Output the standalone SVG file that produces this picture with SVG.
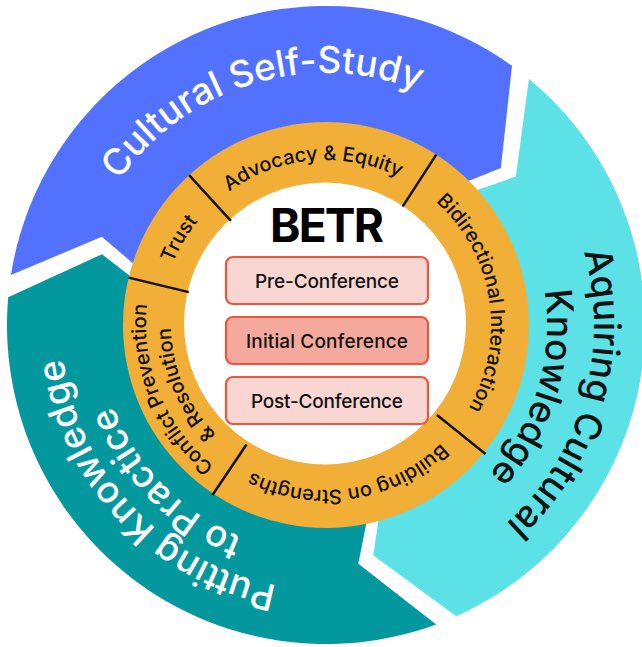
<svg xmlns="http://www.w3.org/2000/svg" xmlns:xlink="http://www.w3.org/1999/xlink" width="642" height="647" viewBox="0 0 642 647">
<style>
.lbl{font-family:Inter,"Liberation Sans",sans-serif;}
.ring{font-size:20px;font-weight:500;fill:#111;}
.outer{font-size:37px;font-weight:500;}
.box{font-size:19px;font-weight:500;fill:#111;}
.div{stroke:#111;stroke-width:2.5;}
.bx{stroke:#E8583F;stroke-width:2.2;}
</style>
<defs>
<path id="r165" d="M326,490 A165,165 0 0 1 326,160 A165,165 0 0 1 326,490"/>
<path id="r180" d="M326,505 A180,180 0 0 1 326,145 A180,180 0 0 1 326,505"/>
<path id="r155" d="M326,480 A155,155 0 0 1 326,170 A155,155 0 0 1 326,480"/>
<path id="r252" d="M326,577 A252,252 0 0 1 326,73 A252,252 0 0 1 326,577"/>
<path id="r268" d="M326,593 A268,268 0 0 1 326,57 A268,268 0 0 1 326,593"/>
<path id="r221" d="M326,546 A221,221 0 0 1 326,104 A221,221 0 0 1 326,546"/>
<path id="r265" d="M326,590 A265,265 0 0 1 326,60 A265,265 0 0 1 326,590"/>
<path id="r228" d="M326,553 A228,228 0 0 1 326,97 A228,228 0 0 1 326,553"/>
</defs>
<rect width="642" height="647" fill="#fff"/>
<g id="arrow-self-study">
<path d="M10.9,275.1 A319,319 0 0 1 512.0,65.8 L500.9,168.1 L413.5,203.1 A150,150 0 0 0 177.8,301.5 L101.8,236.7 Z" fill="#5271FF"/>
<g transform="rotate(-16.8 326 325)"><text class="lbl outer" fill="#fff"><textPath href="#r252" startOffset="50%" text-anchor="middle">Cultural Self-Study</textPath></text></g>
</g>
<g id="arrow-knowledge">
<path d="M528.9,78.9 A319,319 0 0 1 456.3,616.2 L373.3,555.2 L387.2,461.9 A150,150 0 0 0 421.4,209.3 L515.9,176.6 Z" fill="#5CE1E6"/>
<g transform="rotate(106 326 325)"><text class="lbl outer" fill="#111"><textPath href="#r268" startOffset="50%" text-anchor="middle">Aquiring Cultural</textPath></text></g>
<g transform="rotate(106.75 326 325)"><text class="lbl outer" fill="#111"><textPath href="#r221" startOffset="50%" text-anchor="middle">Knowledge</textPath></text></g>
</g>
<g id="arrow-practice">
<path d="M436.2,624.4 A319,319 0 0 1 8.2,297.2 L101.9,254.3 L176.6,311.9 A150,150 0 0 0 377.8,465.8 L358.3,563.8 Z" fill="#03989E"/>
<g transform="rotate(-133.3 326 325)"><text class="lbl outer" fill="#fff"><textPath href="#r265" startOffset="50%" text-anchor="middle">Putting Knowledge</textPath></text></g>
<g transform="rotate(-134.6 326 325)"><text class="lbl outer" fill="#fff"><textPath href="#r228" startOffset="50%" text-anchor="middle">to Practice</textPath></text></g>
</g>
<g id="ring">
<circle cx="326" cy="325" r="203" fill="#F1AF37"/>
<circle cx="325" cy="323.5" r="141" fill="#fff"/>
</g>
<g id="connectors">
<line class="div" x1="230.9" y1="220.9" x2="189.1" y2="175.1"/>
<line class="div" x1="402.6" y1="206.6" x2="436.3" y2="154.6"/>
<line class="div" x1="437" y1="415" x2="485.5" y2="454"/>
<line class="div" x1="246.5" y1="444.5" x2="212.5" y2="495"/>
<line class="div" x1="188.9" y1="292.1" x2="128.6" y2="277.6"/>
</g>
<g id="seg-trust"><g transform="rotate(-59.5 326 325)"><text class="lbl ring"><textPath href="#r165" startOffset="50%" text-anchor="middle">Trust</textPath></text></g></g>
<g id="seg-advocacy"><g transform="rotate(-4.8 326 325)"><text class="lbl ring"><textPath href="#r165" startOffset="50%" text-anchor="middle">Advocacy &amp; Equity</textPath></text></g></g>
<g id="seg-bidirectional"><g transform="rotate(81 326 325)"><text class="lbl ring"><textPath href="#r165" startOffset="50%" text-anchor="middle">Bidirectional Interaction</textPath></text></g></g>
<g id="seg-strengths"><g transform="rotate(171.3 326 325)"><text class="lbl ring"><textPath href="#r165" startOffset="50%" text-anchor="middle">Building on Strengths</textPath></text></g></g>
<g id="seg-conflict">
<g transform="rotate(-112.5 326 325)"><text class="lbl ring"><textPath href="#r180" startOffset="50%" text-anchor="middle">Conflict Prevention</textPath></text></g>
<g transform="rotate(-113 326 325)"><text class="lbl ring"><textPath href="#r155" startOffset="50%" text-anchor="middle">&amp; Resolution</textPath></text></g>
</g>
<g id="title"><text class="lbl" x="327" y="242" font-size="46" font-weight="700" text-anchor="middle" fill="#000" textLength="114">BETR</text></g>
<g id="box-pre"><rect class="bx" x="226" y="257" width="202" height="47" rx="7" fill="#F9D6D1"/><text class="lbl box" x="327" y="287.5" text-anchor="middle" textLength="144">Pre-Conference</text></g>
<g id="box-initial"><rect class="bx" x="226" y="317" width="202" height="47" rx="7" fill="#F4A99C"/><text class="lbl box" x="327" y="347.5" text-anchor="middle" textLength="162">Initial Conference</text></g>
<g id="box-post"><rect class="bx" x="226" y="377" width="202" height="47" rx="7" fill="#F9D6D1"/><text class="lbl box" x="327" y="407.5" text-anchor="middle" textLength="152">Post-Conference</text></g>
</svg>
